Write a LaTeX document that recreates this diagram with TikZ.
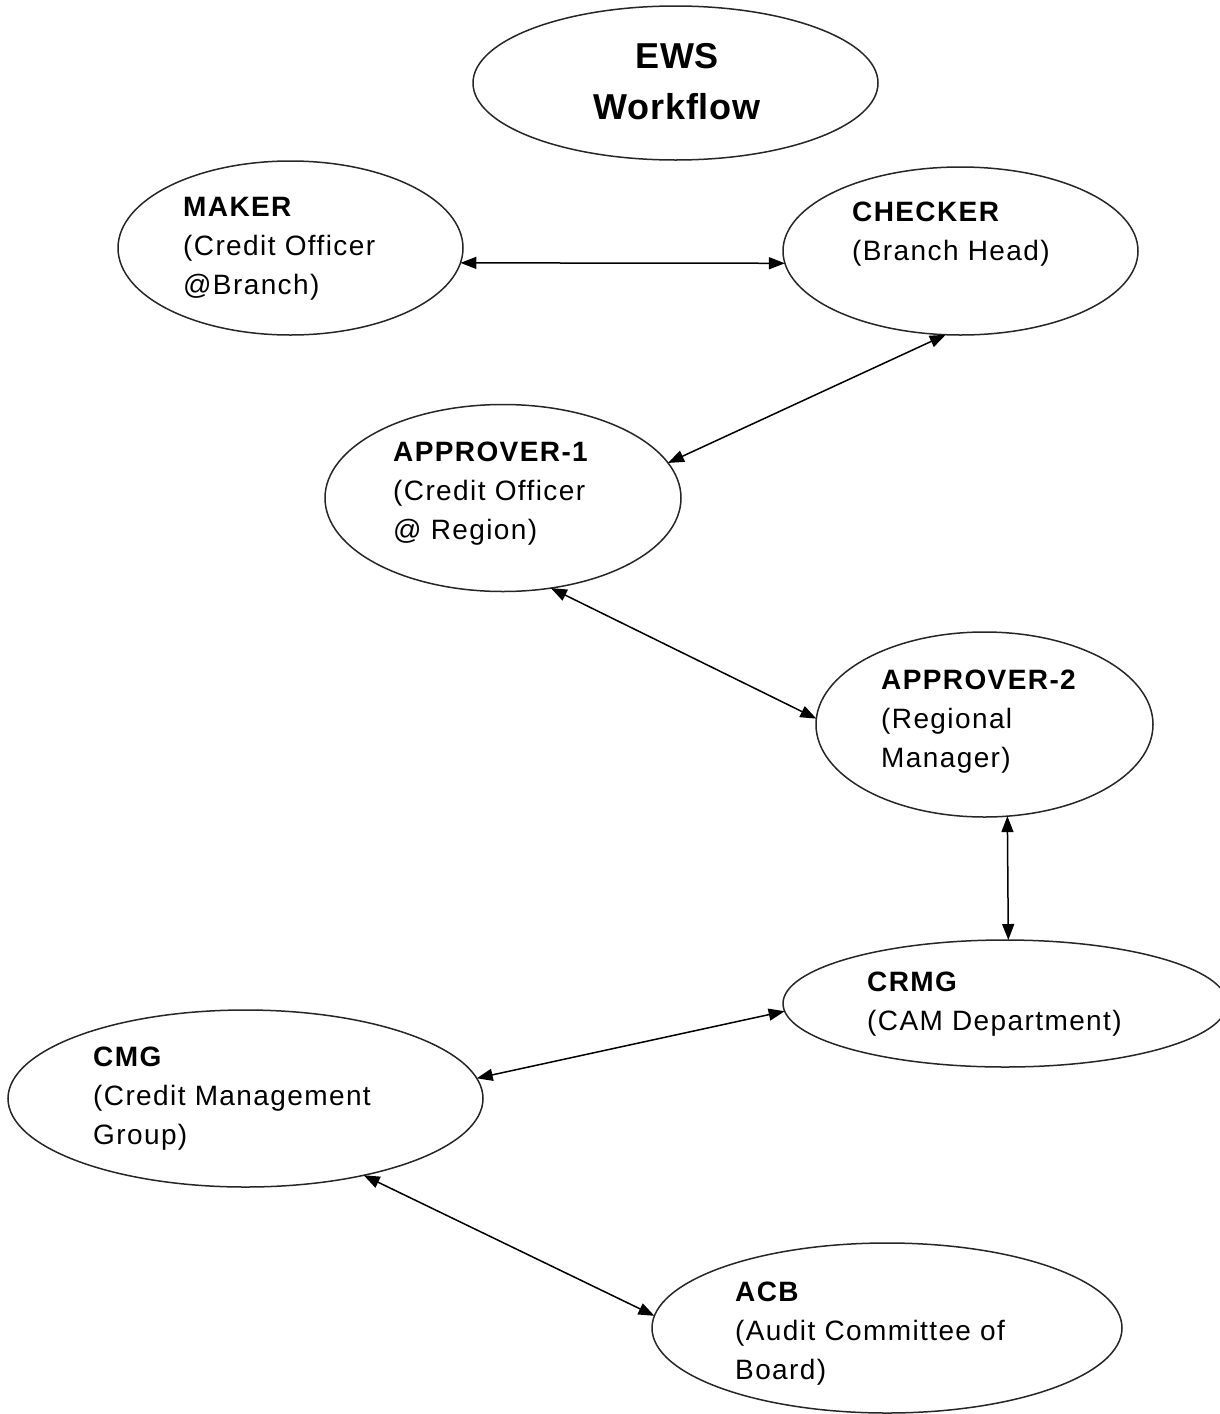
\documentclass[tikz,border=0pt]{standalone}
\usepackage{fontspec}
\setmainfont{Liberation Sans}[LetterSpace=5]
\newfontfamily\titlefont{Liberation Sans}[LetterSpace=2]
\usetikzlibrary{shapes.geometric,arrows.meta}

\tikzset{
  oval/.style={draw=black!85, line width=1.5pt, ellipse, inner sep=0pt, outer sep=0pt},
  lbl/.style={anchor=north west, align=left, inner sep=0pt, font=\fontsize{28}{39}\selectfont},
  link/.style={{Triangle[length=16pt,width=12pt]}-{Triangle[length=16pt,width=12pt]}, line width=1.5pt}
}

\begin{document}
\begin{tikzpicture}[x=1pt,y=-1pt]
  \useasboundingbox (0,0) rectangle (1219,1414);

  % Title
  \node[oval, minimum width=405pt, minimum height=154pt] (ews) at (675.5,83) {};
  \node[anchor=north, align=center, inner sep=0pt, font=\titlefont\bfseries\fontsize{36}{51}\selectfont] (ews-txt) at (677,43) {EWS\\Workflow};

  % The roles
  \node[oval, minimum width=345pt, minimum height=174pt] (maker) at (290.5,248) {};
  \node[lbl] (maker-txt) at (183,197) {\textbf{MAKER}\\(Credit Officer\\@Branch)};

  \node[oval, minimum width=355pt, minimum height=168pt] (checker) at (960.5,251) {};
  \node[lbl] (checker-txt) at (852,202) {\textbf{CHECKER}\\(Branch Head)};

  \node[oval, minimum width=356pt, minimum height=187pt] (appr1) at (503,498) {};
  \node[lbl] (appr1-txt) at (393,442) {\textbf{APPROVER-1}\\(Credit Officer\\@ Region)};

  \node[oval, minimum width=337pt, minimum height=185pt] (appr2) at (984.5,724.5) {};
  \node[lbl] (appr2-txt) at (881,670) {\textbf{APPROVER-2}\\(Regional\\Manager)};

  \node[oval, minimum width=444pt, minimum height=127pt] (crmg) at (1005,1003.5) {};
  \node[lbl] (crmg-txt) at (867,972) {\textbf{CRMG}\\(CAM Department)};

  \node[oval, minimum width=475pt, minimum height=177pt] (cmg) at (245.5,1098.5) {};
  \node[lbl] (cmg-txt) at (93,1047) {\textbf{CMG}\\(Credit Management\\Group)};

  \node[oval, minimum width=470pt, minimum height=170pt] (acb) at (887,1328) {};
  \node[lbl] (acb-txt) at (735,1282) {\textbf{ACB}\\(Audit Committee of\\Board)};

  % Two-way hand-offs
  \draw[link] (maker.-5) -- (checker.184);
  \draw[link] (checker.260) -- (appr1.12);
  \draw[link] (appr1.-62) -- (appr2.178);
  \draw[link] (appr2.-76) -- (crmg.87);
  \draw[link] (crmg.182) -- (cmg.5);
  \draw[link] (cmg.-33) -- (acb.177);

\end{tikzpicture}
\end{document}
